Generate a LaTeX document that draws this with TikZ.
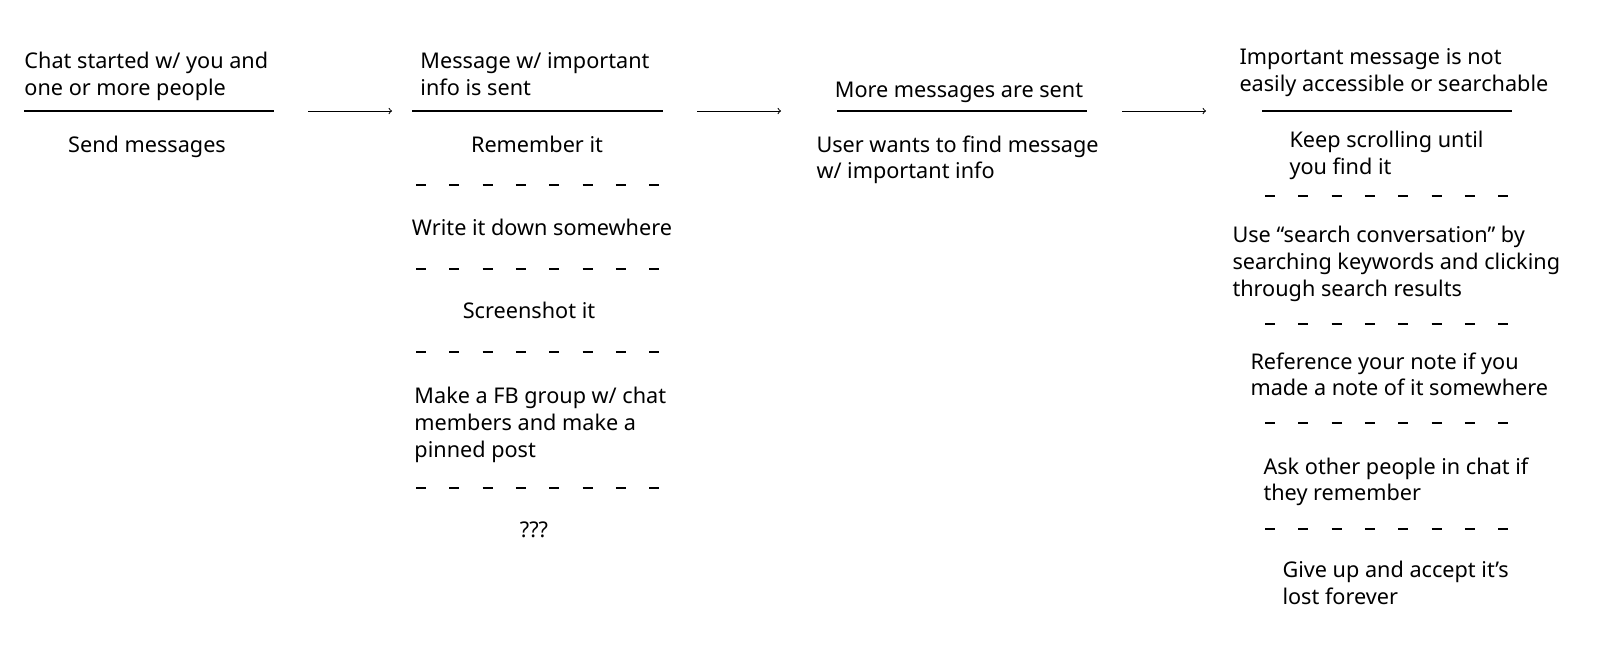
\documentclass[tikz,border=0pt]{standalone}
\usepackage{fontspec}
\setmainfont{Noto Sans}
\usetikzlibrary{positioning}
\tikzset{
every path/.style={line width=0.7pt}
, every node/.style={font=\fontsize{15.4}{18.9}\selectfont, inner sep=0pt}
, stepline/.style={line width=0.75pt}
, optsep/.style={line width=0.8pt, dash pattern=on 7.1pt off 16.6pt}
, flow/.style={->, line width=0.7pt}
, leftitem/.style={align=left, anchor=north west}
, centeritem/.style={anchor=base}}

\begin{document}
\begin{tikzpicture}[x=0.025cm, y=-0.025cm]
\useasboundingbox (0,0) rectangle (1600,647);
% stage 1
\node[leftitem] at (24,52) (chat) {Chat started w/ you and\\one or more people};
\coordinate (s1w) at (24,111);
\coordinate (s1e) at (274,111);
\draw[stepline] (s1w) -- (s1e);
\node[centeritem] at (147,152) (send) {Send messages};
% stage 2
\node[leftitem] at (420,52) (msg) {Message w/ important\\info is sent};
\coordinate (s2w) at (412,111);
\coordinate (s2e) at (663,111);
\draw[stepline] (s2w) -- (s2e);
\node[centeritem] at (537,152) (remember) {Remember it};
\draw[optsep] (416,185) -- (662,185);
\node[centeritem] at (542,235) (write) {Write it down somewhere};
\draw[optsep] (416,269) -- (662,269);
\node[centeritem] at (529,318) (shot) {Screenshot it};
\draw[optsep] (416,352) -- (662,352);
\node[leftitem] at (414,387) (fbgroup) {Make a FB group w/ chat\\members and make a\\pinned post};
\draw[optsep] (416,488) -- (662,488);
\node[centeritem] at (534,537) (unknown) {???};
% stage 3
\node[centeritem] at (959,97) (more) {More messages are sent};
\coordinate (s3w) at (837,111);
\coordinate (s3e) at (1087,111);
\draw[stepline] (s3w) -- (s3e);
\node[leftitem] at (816,135) (find) {User wants to find message\\w/ important info};
% stage 4
\node[leftitem] at (1239,48) (lost) {Important message is not\\easily accessible or searchable};
\coordinate (s4w) at (1262,111);
\coordinate (s4e) at (1512,111);
\draw[stepline] (s4w) -- (s4e);
\node[leftitem] at (1289,131) (scroll) {Keep scrolling until\\you find it};
\draw[optsep] (1265,196) -- (1512,196);
\node[leftitem] at (1232,226) (search) {Use “search conversation” by\\searching keywords and clicking\\through search results};
\draw[optsep] (1265,324) -- (1512,324);
\node[leftitem] at (1250,352) (note) {Reference your note if you\\made a note of it somewhere};
\draw[optsep] (1265,423) -- (1512,423);
\node[leftitem] at (1263,457) (ask) {Ask other people in chat if\\they remember};
\draw[optsep] (1265,529) -- (1512,529);
\node[leftitem] at (1282,561) (giveup) {Give up and accept it’s\\lost forever};
% arrows between stages
\coordinate (a1s) at (308,111);
\coordinate (a1e) at (392,111);
\coordinate (a2s) at (697,111);
\coordinate (a2e) at (781,111);
\coordinate (a3s) at (1122,111);
\coordinate (a3e) at (1206,111);
\draw[flow] (a1s) -- (a1e);
\draw[flow] (a2s) -- (a2e);
\draw[flow] (a3s) -- (a3e);
\end{tikzpicture}
\end{document}
